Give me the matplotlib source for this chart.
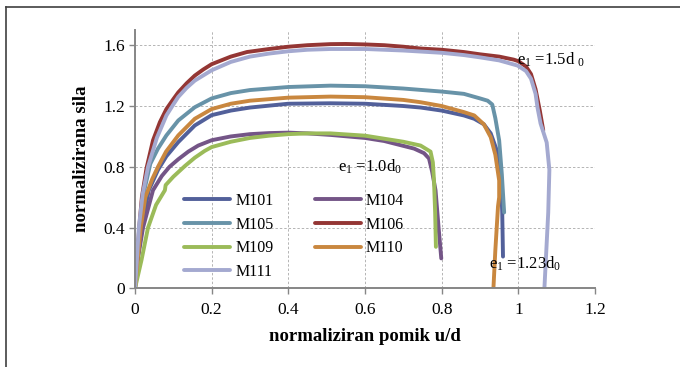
import matplotlib
matplotlib.use("Agg")
import matplotlib.pyplot as plt
from matplotlib.lines import Line2D

plt.rcParams["font.family"] = ["Liberation Serif", "DejaVu Serif"]
plt.rcParams["mathtext.fontset"] = "custom"
plt.rcParams["mathtext.rm"] = "Liberation Serif"
plt.rcParams["mathtext.it"] = "Liberation Serif:italic"

# normalized displacement u/d and normalized force per specimen
m101_x = [0, 0.007, 0.017, 0.036, 0.06, 0.082, 0.113, 0.156, 0.2, 0.25, 0.3, 0.4, 0.51,
          0.6, 0.7, 0.745, 0.8, 0.858, 0.885, 0.91, 0.928, 0.945, 0.954, 0.958, 0.96]
m101_y = [0, 0.19, 0.4, 0.646, 0.78, 0.87, 0.963, 1.072, 1.14, 1.17, 1.19, 1.215, 1.218,
          1.215, 1.2, 1.19, 1.17, 1.138, 1.116, 1.08, 1.02, 0.9, 0.757, 0.5, 0.21]

m104_x = [0, 0.007, 0.021, 0.047, 0.07, 0.09, 0.113, 0.139, 0.165, 0.2, 0.25, 0.3, 0.35, 0.4,
          0.45, 0.51, 0.6, 0.65, 0.728, 0.754, 0.767, 0.775, 0.784, 0.792, 0.799]
m104_y = [0, 0.187, 0.4, 0.646, 0.74, 0.8, 0.85, 0.9, 0.94, 0.975, 1.0, 1.015, 1.022, 1.025,
          1.02, 1.01, 0.99, 0.97, 0.92, 0.89, 0.855, 0.77, 0.646, 0.4, 0.198]

m105_x = [0, 0.006, 0.012, 0.022, 0.04, 0.06, 0.082, 0.113, 0.156, 0.2, 0.25, 0.3, 0.4, 0.51,
          0.6, 0.7, 0.8, 0.858, 0.9, 0.92, 0.932, 0.94, 0.95, 0.957, 0.963]
m105_y = [0, 0.19, 0.4, 0.62, 0.82, 0.92, 1.007, 1.105, 1.192, 1.25, 1.285, 1.305, 1.325, 1.334,
          1.33, 1.315, 1.295, 1.28, 1.25, 1.235, 1.21, 1.12, 0.974, 0.75, 0.5]

m106_x = [0, 0.006, 0.011, 0.018, 0.03, 0.047, 0.065, 0.082, 0.1, 0.113, 0.135, 0.156, 0.178,
          0.2, 0.25, 0.292, 0.35, 0.4, 0.45, 0.51, 0.55, 0.6, 0.65, 0.7, 0.745, 0.8, 0.858, 0.9,
          0.95, 0.988, 1.0, 1.02, 1.033, 1.045, 1.056, 1.065]
m106_y = [0, 0.19, 0.4, 0.6, 0.79, 0.974, 1.094, 1.18, 1.245, 1.29, 1.35, 1.40, 1.44,
          1.475, 1.525, 1.555, 1.575, 1.59, 1.60, 1.607, 1.608, 1.605, 1.60, 1.59, 1.578, 1.57,
          1.555, 1.54, 1.525, 1.505, 1.495, 1.46, 1.41, 1.31, 1.17, 1.04]

m109_x = [0, 0.017, 0.034, 0.055, 0.078, 0.08, 0.1, 0.13, 0.156, 0.182, 0.2, 0.25, 0.3, 0.35,
          0.4, 0.45, 0.51, 0.6, 0.7, 0.745, 0.771, 0.777, 0.78, 0.783, 0.785]
m109_y = [0, 0.187, 0.4, 0.55, 0.646, 0.68, 0.735, 0.805, 0.86, 0.905, 0.93, 0.965, 0.99, 1.005,
          1.015, 1.02, 1.02, 1.005, 0.965, 0.94, 0.9, 0.83, 0.71, 0.5, 0.274]

m110_x = [0, 0.007, 0.015, 0.027, 0.045, 0.06, 0.081, 0.113, 0.156, 0.2, 0.25, 0.3, 0.4, 0.51,
          0.6, 0.7, 0.745, 0.8, 0.858, 0.885, 0.91, 0.928, 0.94, 0.95, 0.95, 0.947, 0.94, 0.935]
m110_y = [0, 0.19, 0.4, 0.6, 0.72, 0.8, 0.9, 1.007, 1.116, 1.18, 1.215, 1.235, 1.255, 1.262,
          1.258, 1.24, 1.225, 1.2, 1.16, 1.138, 1.08, 0.995, 0.88, 0.71, 0.6, 0.54, 0.25, 0]

m111_x = [0, 0.005, 0.01, 0.02, 0.034, 0.057, 0.082, 0.1, 0.113, 0.135, 0.156, 0.2, 0.25, 0.3,
          0.35, 0.4, 0.45, 0.51, 0.6, 0.7, 0.8, 0.858, 0.9, 0.95, 0.998, 1.02, 1.033, 1.045,
          1.05, 1.058, 1.074, 1.081, 1.078, 1.073, 1.068]
m111_y = [0, 0.19, 0.4, 0.62, 0.8, 0.99, 1.138, 1.21, 1.26, 1.32, 1.367, 1.435, 1.49, 1.525,
          1.545, 1.56, 1.57, 1.575, 1.575, 1.565, 1.55, 1.535, 1.52, 1.50, 1.466, 1.43, 1.38,
          1.28, 1.19, 1.085, 0.96, 0.78, 0.5, 0.25, 0]

series = [
    ("M101", m101_x, m101_y, "#52609a"),
    ("M104", m104_x, m104_y, "#745587"),
    ("M105", m105_x, m105_y, "#6893a8"),
    ("M106", m106_x, m106_y, "#943634"),
    ("M109", m109_x, m109_y, "#9bbb59"),
    ("M110", m110_x, m110_y, "#c9873f"),
    ("M111", m111_x, m111_y, "#a4a9d0"),
]

x_ticks = [0, 0.2, 0.4, 0.6, 0.8, 1.0, 1.2]
x_tick_labels = ["0", "0.2", "0.4", "0.6", "0.8", "1", "1.2"]
y_ticks = [0, 0.4, 0.8, 1.2, 1.6]
y_tick_labels = ["0", "0.4", "0.8", "1.2", "1.6"]

notes = [
    (0.996, 1.47, r"e$_1$ =1.5d $_0$"),
    (0.529, 0.766, r"e$_1$ =1.0d$_0$"),
    (0.924, 0.132, r"e$_1$ =1.23d$_0$"),
]


def main():
    fig = plt.figure(figsize=(6.8, 3.67), dpi=100)
    ax = fig.add_axes([0.1985, 0.2139, 0.6765, 0.7044])

    lines = {}
    for name, xs, ys, color in series:
        (ln,) = ax.plot(xs, ys, color=color, lw=2.8, solid_capstyle="round",
                        solid_joinstyle="round", label=name)
        lines[name] = ln

    ax.set_xlim(0, 1.2)
    ax.set_ylim(0, 1.7)
    ax.set_xticks(x_ticks)
    ax.set_xticklabels(x_tick_labels)
    ax.set_yticks(y_ticks)
    ax.set_yticklabels(y_tick_labels)
    ax.tick_params(axis="both", direction="out", length=4, width=1, color="#868686",
                   labelsize=12.5, labelcolor="black")
    ax.tick_params(axis="x", pad=6)
    ax.tick_params(axis="y", pad=3)

    ax.grid(True, color="#b4b4b4", lw=0.7, ls=(0, (2.5, 2)))
    ax.set_axisbelow(True)
    for side in ["top", "right"]:
        ax.spines[side].set_visible(False)
    for side in ["left", "bottom"]:
        ax.spines[side].set_color("#868686")
        ax.spines[side].set_linewidth(1.4)

    ax.set_xlabel("normaliziran pomik u/d", fontsize=13.5, fontweight="bold", labelpad=7)
    ax.set_ylabel("normalizirana sila", fontsize=13.5, fontweight="bold", labelpad=10)

    for x, y, text in notes:
        ax.text(x, y, text, fontsize=12, ha="left", va="baseline")

    # legend fills column by column, so order it to read row by row
    order = ["M101", "M105", "M109", "M111", "M104", "M106", "M110"]
    ax.legend([lines[n] for n in order], order, loc="upper left",
              bbox_to_anchor=(184 / 680, 1 - 193 / 367), bbox_transform=fig.transFigure,
              ncol=2, frameon=False, fontsize=11.5, handlelength=2.9, handletextpad=0.3,
              columnspacing=2.6, labelspacing=0.48, borderpad=0, borderaxespad=0)

    # outer frame (only top and left edges visible in the crop)
    fig.add_artist(Line2D([6 / 680, 1], [1 - 7 / 367, 1 - 7 / 367], transform=fig.transFigure,
                          color="#404040", lw=1.2))
    fig.add_artist(Line2D([6 / 680, 6 / 680], [0, 1 - 7 / 367], transform=fig.transFigure,
                          color="#404040", lw=1.2))

    fig.savefig("out.png", dpi=100)
    plt.close(fig)


if __name__ == "__main__":
    main()
